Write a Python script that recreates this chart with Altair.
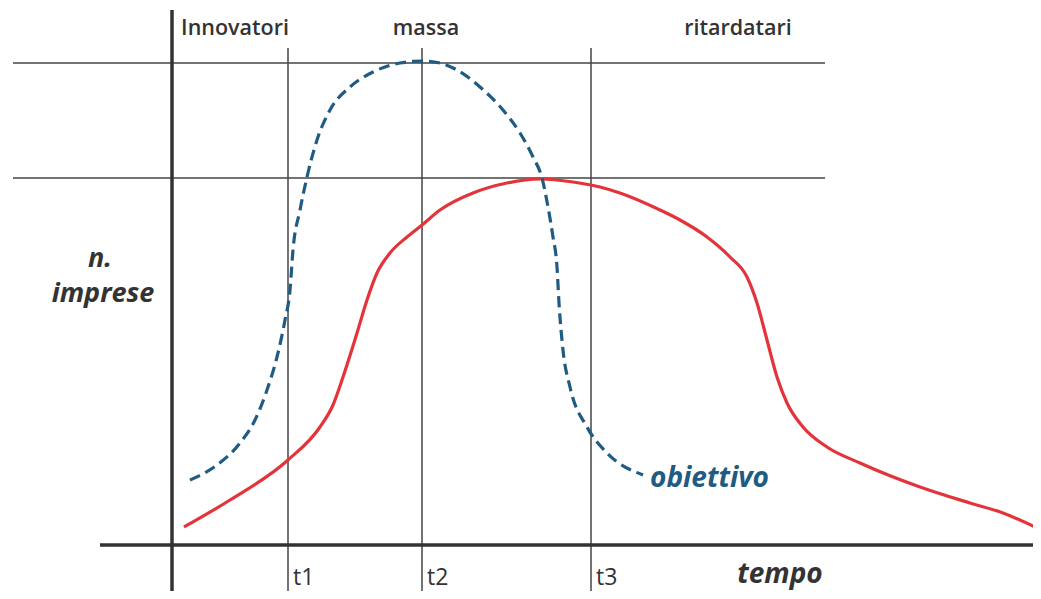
import altair as alt
import pandas as pd

# ---- data (x: tempo units from origin, y: n. imprese units) ----
red_x = [12, 58, 116, 148, 161, 171, 185, 195, 205, 218, 235, 250, 268, 301, 335, 368, 401, 428, 448, 488, 508, 535, 558, 575, 585, 595, 605, 615, 631, 655, 688, 748, 798, 831, 863]
red_y = [18, 45, 85, 118, 140, 168, 212, 245, 272, 292, 308, 320, 335, 352, 362, 366, 363, 358, 352, 335, 325, 308, 288, 268, 242, 205, 168, 142, 118, 98, 82, 58, 42, 32, 18]

blue_x = [18, 45, 68, 83, 95, 105, 113, 118, 121, 128, 135, 145, 158, 178, 201, 228, 251, 268, 285, 308, 331, 348, 361, 370, 376, 381, 385, 387, 391, 398, 415, 435, 471]
blue_y = [65, 80, 102, 125, 155, 188, 225, 255, 295, 335, 368, 405, 435, 458, 473, 482, 484, 482, 475, 458, 435, 412, 388, 367, 338, 308, 278, 242, 195, 158, 118, 92, 70]

t_names = ["t1", "t2", "t3"]
t_pos = [116, 250, 419]

level_vals = [482, 367]

phase_names = ["Innovatori", "massa", "ritardatari"]
phase_pos = [63, 254, 566]

W, H = 1025, 583
XD = [-164, 861]
YD = [-46, 537]

xs = alt.Scale(domain=XD, nice=False, zero=False)
ys = alt.Scale(domain=YD, nice=False, zero=False)

def X(f="x"):
    return alt.X(f"{f}:Q", scale=xs, axis=None)

def Y(f="y"):
    return alt.Y(f"{f}:Q", scale=ys, axis=None)

# horizontal reference levels
hl = pd.DataFrame({"y": level_vals, "x": [-159] * 2, "x2": [653] * 2})
hlines = alt.Chart(hl).mark_rule(color="#444444", strokeWidth=1.5).encode(
    x=X(), x2="x2:Q", y=Y())

# vertical time markers
vl = pd.DataFrame({"x": t_pos, "y": [-48] * 3, "y2": [497] * 3})
vlines = alt.Chart(vl).mark_rule(color="#444444", strokeWidth=1.5).encode(
    x=X(), y=Y(), y2="y2:Q")

# main axes
ax_v = alt.Chart(pd.DataFrame({"x": [0], "y": [-48], "y2": [535]})).mark_rule(
    color="#333333", strokeWidth=3.5).encode(x=X(), y=Y(), y2="y2:Q")
ax_h = alt.Chart(pd.DataFrame({"y": [0], "x": [-72], "x2": [869]})).mark_rule(
    color="#333333", strokeWidth=3.5).encode(y=Y(), x=X(), x2="x2:Q")

# curves
red = alt.Chart(pd.DataFrame({"x": red_x, "y": red_y})).mark_line(
    color="#e3343b", strokeWidth=3.2, interpolate="monotone").encode(x=X(), y=Y())
blue = alt.Chart(pd.DataFrame({"x": blue_x, "y": blue_y})).mark_line(
    color="#1f5b82", strokeWidth=3.2, strokeDash=[11, 6], interpolate="monotone").encode(x=X(), y=Y())

# texts
phases = alt.Chart(pd.DataFrame({"x": phase_pos, "y": [510] * 3, "t": phase_names})).mark_text(
    font="Open Sans", fontSize=21.5, fontWeight=600, color="#333333", align="center", baseline="alphabetic").encode(
    x=X(), y=Y(), text="t:N")

tlabels = alt.Chart(pd.DataFrame({"x": [p + 5 for p in t_pos], "y": [-40] * 3, "t": t_names})).mark_text(
    font="Open Sans", fontSize=23, color="#333333", align="left", baseline="alphabetic").encode(
    x=X(), y=Y(), text="t:N")

tempo = alt.Chart(pd.DataFrame({"x": [608], "y": [-38], "t": ["tempo"]})).mark_text(
    font="Open Sans", fontSize=28, fontStyle="italic", fontWeight="bold", color="#333333",
    align="center", baseline="alphabetic").encode(x=X(), y=Y(), text="t:N")

ylab = alt.Chart(pd.DataFrame({"x": [-72, -69], "y": [278, 243], "t": ["n.", "imprese"]})).mark_text(
    font="Open Sans", fontSize=27, fontStyle="italic", fontWeight="bold", color="#333333",
    align="center", baseline="alphabetic").encode(x=X(), y=Y(), text="t:N")

obiettivo = alt.Chart(pd.DataFrame({"x": [478], "y": [58], "t": ["obiettivo"]})).mark_text(
    font="Open Sans", fontSize=28, fontStyle="italic", fontWeight="bold", color="#1f5b82",
    align="left", baseline="alphabetic").encode(x=X(), y=Y(), text="t:N")

chart = alt.layer(hlines, vlines, ax_v, ax_h, red, blue, phases, tlabels, tempo, ylab, obiettivo).properties(
    width=W, height=H, padding=0, autosize=alt.AutoSizeParams(type="none")
).configure_view(stroke=None)

chart.save("out.html", embed_options={"renderer": "svg", "actions": False})
